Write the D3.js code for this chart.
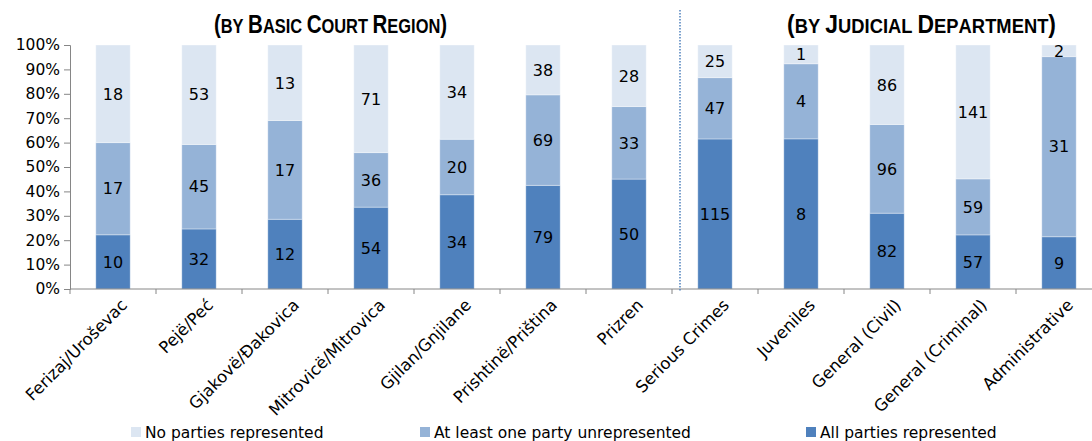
<!DOCTYPE html>
<html>
<head>
<meta charset="utf-8">
<script src="https://cdn.jsdelivr.net/npm/d3@7"></script>
<style>
  body { margin: 0; background: #fff; }
  svg { display: block; font-family: "DejaVu Sans", Verdana, sans-serif; }
</style>
</head>
<body>
<svg id="chart" width="1092" height="441"></svg>
<script>
var categories = ["Ferizaj/Uroševac", "Pejë/Peć", "Gjakovë/Đakovica", "Mitrovicë/Mitrovica",
    "Gjilan/Gnjilane", "Prishtinë/Priština", "Prizren", "Serious Crimes", "Juveniles",
    "General (Civil)", "General (Criminal)", "Administrative"];
var allRepresented = [10, 32, 12, 54, 34, 79, 50, 115, 8, 82, 57, 9];
var oneUnrepresented = [17, 45, 17, 36, 20, 69, 33, 47, 4, 96, 59, 31];
var noneRepresented = [18, 53, 13, 71, 34, 38, 28, 25, 1, 86, 141, 2];
var seriesNames = ["All parties represented", "At least one party unrepresented", "No parties represented"];
var yTicks = [0, 0.1, 0.2, 0.3, 0.4, 0.5, 0.6, 0.7, 0.8, 0.9, 1];
var groupTitles = ["(by Basic Court Region)", "(by Judicial Department)"];

var colors = ["#4f81bd", "#95b3d7", "#dce6f2"];

var svg = d3.select("#chart");
var plotLeft = 70, plotTop = 45, bandW = 86, plotH = 244;

var x = d3.scaleBand().domain(categories).range([plotLeft, plotLeft + bandW * categories.length]).paddingInner(0.6).paddingOuter(0.3);
var y = d3.scaleLinear().domain([0, 1]).range([plotTop + plotH, plotTop]);

// build stacked rows
var rows = categories.map(function (c, i) {
    var vals = [allRepresented[i], oneUnrepresented[i], noneRepresented[i]];
    var total = vals[0] + vals[1] + vals[2];
    var acc = 0;
    return vals.map(function (v, k) {
        var seg = {cat: c, k: k, v: v, y0: acc / total, y1: (acc + v) / total};
        acc += v;
        return seg;
    });
});

var segs = [].concat.apply([], rows);

svg.selectAll("rect.seg").data(segs).enter().append("rect")
    .attr("class", "seg")
    .attr("x", function (d) { return x(d.cat); })
    .attr("width", x.bandwidth())
    .attr("y", function (d) { return y(d.y1); })
    .attr("height", function (d) { return y(d.y0) - y(d.y1); })
    .attr("fill", function (d) { return colors[d.k]; })
    .attr("stroke", "#fff")
    .attr("stroke-opacity", 0.35)
    .attr("stroke-width", 1);

svg.selectAll("text.val").data(segs).enter().append("text")
    .attr("class", "val")
    .attr("x", function (d) { return x(d.cat) + x.bandwidth() / 2; })
    .attr("y", function (d) { return (y(d.y0) + y(d.y1)) / 2; })
    .attr("dy", "0.36em")
    .attr("text-anchor", "middle")
    .style("font-size", "16px")
    .attr("fill", "#000")
    .text(function (d) { return d.v; });

// y axis
var yAxis = d3.axisLeft(y).tickValues(yTicks).tickSize(6).tickFormat(d3.format(".0%"));
var gy = svg.append("g").attr("transform", "translate(" + plotLeft + ",0)").call(yAxis);
gy.select(".domain").attr("stroke", "#868686");
gy.selectAll(".tick line").attr("stroke", "#868686");
gy.selectAll(".tick text").style("font-size", "15.5px").style("font-family", "'DejaVu Sans', Verdana, sans-serif").attr("fill", "#000").attr("x", -10);

// x axis with ticks at band edges
var xAxisY = plotTop + plotH;
var edges = d3.range(categories.length + 1).map(function (i) { return plotLeft + i * bandW; });
svg.append("line").attr("x1", plotLeft).attr("x2", plotLeft + bandW * categories.length)
    .attr("y1", xAxisY).attr("y2", xAxisY).attr("stroke", "#868686");
svg.selectAll("line.xt").data(edges).enter().append("line")
    .attr("x1", function (d) { return d; }).attr("x2", function (d) { return d; })
    .attr("y1", xAxisY).attr("y2", xAxisY + 5).attr("stroke", "#868686");

svg.selectAll("text.cat").data(categories).enter().append("text")
    .attr("class", "cat")
    .attr("transform", function (d) {
        return "translate(" + (x(d) + x.bandwidth() / 2 + 7) + "," + (xAxisY + 9) + ") rotate(-45)";
    })
    .attr("text-anchor", "end")
    .attr("dy", "0.7em")
    .style("font-size", "16.5px")
    .attr("fill", "#000")
    .text(function (d) { return d; });

// dotted separator
svg.append("line").attr("x1", 680).attr("x2", 680).attr("y1", 10).attr("y2", xAxisY + 2)
    .attr("stroke", "#4f81bd").attr("stroke-width", 1.5).attr("stroke-dasharray", "1.5,1.5");

// group titles, hand-made small caps, squeezed to the width in the picture
var titleX = [330.5, 921.5];
var titleW = [233, 267];
svg.selectAll("text.gt").data(groupTitles).enter().append("text")
    .attr("class", "gt")
    .attr("text-anchor", "middle")
    .style("font-family", "'Liberation Sans Narrow', 'Liberation Sans', sans-serif")
    .style("font-weight", "bold")
    .attr("fill", "#000")
    .each(function (d, i) {
        var t = d3.select(this);
        d.split("").forEach(function (ch) {
            var big = ch != ch.toLowerCase() || ch == "(" || ch == ")";
            t.append("tspan").style("font-size", big ? "25px" : "20px").text(ch.toUpperCase());
        });
        var w = this.getComputedTextLength();
        t.attr("transform", "translate(" + titleX[i] + ",33) scale(" + (titleW[i] / w) + ",1)");
    });

// legend
var legendItems = [2, 1, 0];
var legendX = [131, 420, 806];
var lg = svg.selectAll("g.lg").data(legendItems).enter().append("g")
    .attr("transform", function (d, i) { return "translate(" + legendX[i] + ",427)"; });
lg.append("rect").attr("width", 10).attr("height", 10).attr("fill", function (d) { return colors[d]; });
lg.append("text").attr("x", 14).attr("y", 5).attr("dy", "0.36em")
    .style("font-size", "15.5px").attr("fill", "#000")
    .text(function (d) { return seriesNames[d]; });
</script>
</body>
</html>
